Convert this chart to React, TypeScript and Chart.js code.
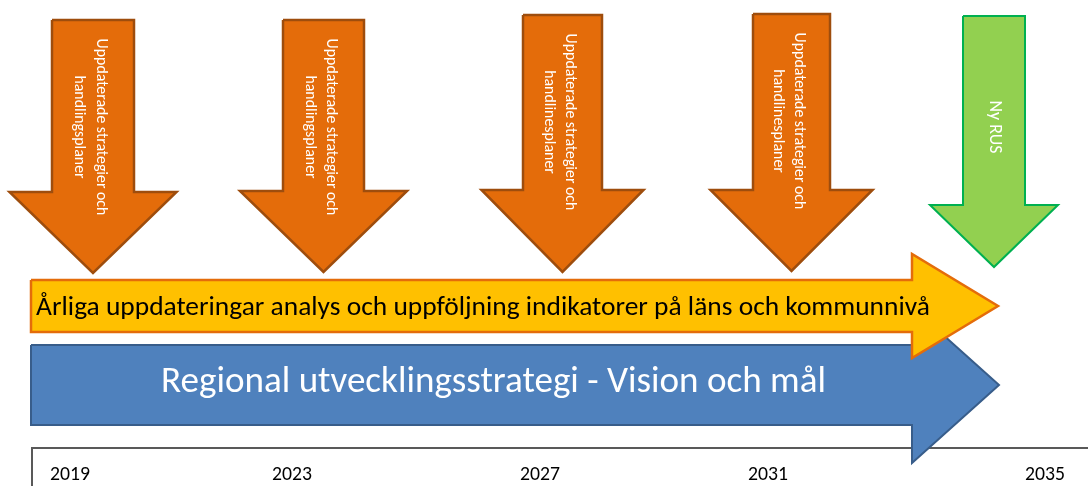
import React, { useEffect, useRef } from 'react';
import { Chart, registerables } from 'chart.js';

Chart.register(...registerables);

const CANVAS_W = 1088;
const CANVAS_H = 486;
const FONT = 'Carlito, Lato, "Open Sans", sans-serif';

// Timeline along the bottom
const yearLabels = ['2019', '2023', '2027', '2031', '2035'];
const yearLabelX = [70, 292, 540, 768, 1045];

// Downward arrows (four plan updates + new RUS)
const downLine1 = [
  'Uppdaterade strategier och',
  'Uppdaterade strategier och',
  'Uppdaterade strategier och',
  'Uppdaterade strategier och',
  'Ny RUS',
];
const downLine2 = ['handlingsplaner', 'handlingsplaner', 'handlinesplaner', 'handlinesplaner', ''];
const downCenterX = [93, 323.5, 562.5, 791.5, 994];
const downTop = [20, 20, 15, 14, 16];
const downHeadBase = [192, 191, 190, 190, 205];
const downTip = [273, 272, 272, 271, 267];
const downShaftHalf = [41, 40.5, 39.5, 38.5, 31];
const downHeadHalf = [83.5, 83.5, 81, 81, 64];

// Horizontal arrows: [yellow annual updates, blue strategy]
const rightLabels = [
  'Årliga uppdateringar analys och uppföljning indikatorer på läns och kommunnivå',
  'Regional utvecklingsstrategi - Vision och mål',
];
const rightLeft = [31, 31];
const rightHeadBase = [912, 912];
const rightTip = [998, 999];
const rightBodyTop = [280, 345];
const rightBodyBottom = [332, 425];
const rightHeadTop = [254, 307];
const rightHeadBottom = [358, 463];

type P = { x: number; y: number };

function downArrow(i: number): P[] {
  const cx = downCenterX[i], s = downShaftHalf[i], h = downHeadHalf[i];
  const t = downTop[i], b = downHeadBase[i], tip = downTip[i];
  return [
    { x: cx - s, y: t }, { x: cx + s, y: t }, { x: cx + s, y: b }, { x: cx + h, y: b },
    { x: cx, y: tip }, { x: cx - h, y: b }, { x: cx - s, y: b }, { x: cx - s, y: t },
  ];
}

function rightArrow(i: number): P[] {
  const l = rightLeft[i], b = rightHeadBase[i], tip = rightTip[i];
  const t = rightBodyTop[i], bt = rightBodyBottom[i];
  const ht = rightHeadTop[i], hb = rightHeadBottom[i];
  const mid = (ht + hb) / 2;
  return [
    { x: l, y: t }, { x: b, y: t }, { x: b, y: ht }, { x: tip, y: mid },
    { x: b, y: hb }, { x: b, y: bt }, { x: l, y: bt }, { x: l, y: t },
  ];
}

function shape(points: P[], fillColor: string, borderColor: string, borderWidth: number) {
  return {
    data: points,
    fill: 'shape',
    backgroundColor: fillColor,
    borderColor,
    borderWidth,
    borderJoinStyle: 'miter',
    pointRadius: 0,
    tension: 0,
    clip: false,
  };
}

function fitSize(ctx: CanvasRenderingContext2D, text: string, width: number, weight = 'normal') {
  ctx.font = `${weight} 100px ${FONT}`;
  const w = ctx.measureText(text).width;
  return (100 * width) / w;
}

const textPlugin = {
  id: 'diagramText',
  afterDatasetsDraw(chart: any) {
    const { ctx } = chart;
    const x = chart.scales.x;
    const y = chart.scales.y;
    ctx.save();

    // Vertical texts in down arrows
    const orangeSize = fitSize(ctx, downLine1[0], 177);
    const greenSize = fitSize(ctx, downLine1[4], 53);
    for (let i = 0; i < downLine1.length; i++) {
      const isGreen = !downLine2[i];
      const size = isGreen ? greenSize : orangeSize;
      const cy = y.getPixelForValue(isGreen ? 127 : downTop[i] + 107);
      ctx.fillStyle = '#ffffff';
      ctx.font = `normal ${size}px ${FONT}`;
      ctx.textAlign = 'center';
      ctx.textBaseline = 'middle';
      const cols: [string, number][] = isGreen
        ? [[downLine1[i], 0]]
        : [[downLine1[i], 7.5], [downLine2[i], -14]];
      for (const [t, off] of cols) {
        ctx.save();
        ctx.translate(x.getPixelForValue(downCenterX[i] + off), cy);
        ctx.rotate(Math.PI / 2);
        ctx.fillText(t, 0, 0);
        ctx.restore();
      }
    }

    // Horizontal arrow labels
    ctx.textAlign = 'center';
    ctx.textBaseline = 'alphabetic';
    const ySize = fitSize(ctx, rightLabels[0], 894);
    ctx.font = `normal ${ySize}px ${FONT}`;
    ctx.fillStyle = '#000000';
    ctx.fillText(rightLabels[0], x.getPixelForValue(483), y.getPixelForValue(315));
    const bSize = fitSize(ctx, rightLabels[1], 665);
    ctx.font = `normal ${bSize}px ${FONT}`;
    ctx.fillStyle = '#ffffff';
    ctx.fillText(rightLabels[1], x.getPixelForValue(493.5), y.getPixelForValue(392));

    // Year labels
    const yrSize = fitSize(ctx, yearLabels[0], 40);
    ctx.font = `normal ${yrSize}px ${FONT}`;
    ctx.fillStyle = '#000000';
    yearLabels.forEach((lab, i) => {
      ctx.fillText(lab, x.getPixelForValue(yearLabelX[i]), y.getPixelForValue(480));
    });

    ctx.restore();
  },
};

export default function App() {
  const ref = useRef<HTMLCanvasElement | null>(null);

  useEffect(() => {
    document.body.style.margin = '0';
    if (!ref.current) return;

    const layers: any[] = [];
    // bottom timeline frame
    layers.push({
      data: [{ x: CANVAS_W + 4, y: 448 }, { x: 32, y: 448 }, { x: 32, y: CANVAS_H + 4 }],
      fill: false,
      borderColor: '#595959',
      borderWidth: 2,
      borderJoinStyle: 'miter',
      pointRadius: 0,
      tension: 0,
      clip: false,
    });
    layers.push(shape(rightArrow(1), '#4F81BD', '#385D8A', 2));
    layers.push(shape(rightArrow(0), '#FFC000', '#E46C0A', 2.5));
    for (let i = 0; i < 4; i++) layers.push(shape(downArrow(i), '#E46C0A', '#9E4D0D', 2.5));
    layers.push(shape(downArrow(4), '#92D050', '#00B050', 2));

    const n = layers.length;
    const datasets = layers.map((d, i) => ({ ...d, order: n - i }));

    const chart = new Chart(ref.current, {
      type: 'line',
      data: { datasets },
      options: {
        animation: false,
        responsive: false,
        events: [],
        layout: { padding: 0 },
        plugins: { legend: { display: false }, tooltip: { enabled: false } },
        scales: {
          x: { type: 'linear', min: 0, max: CANVAS_W, display: false },
          y: { type: 'linear', min: 0, max: CANVAS_H, reverse: true, display: false },
        },
      },
      plugins: [textPlugin],
    } as any);

    return () => chart.destroy();
  }, []);

  return (
    <div style={{ width: CANVAS_W, height: CANVAS_H, background: '#ffffff' }}>
      <canvas ref={ref} width={CANVAS_W} height={CANVAS_H} />
    </div>
  );
}
